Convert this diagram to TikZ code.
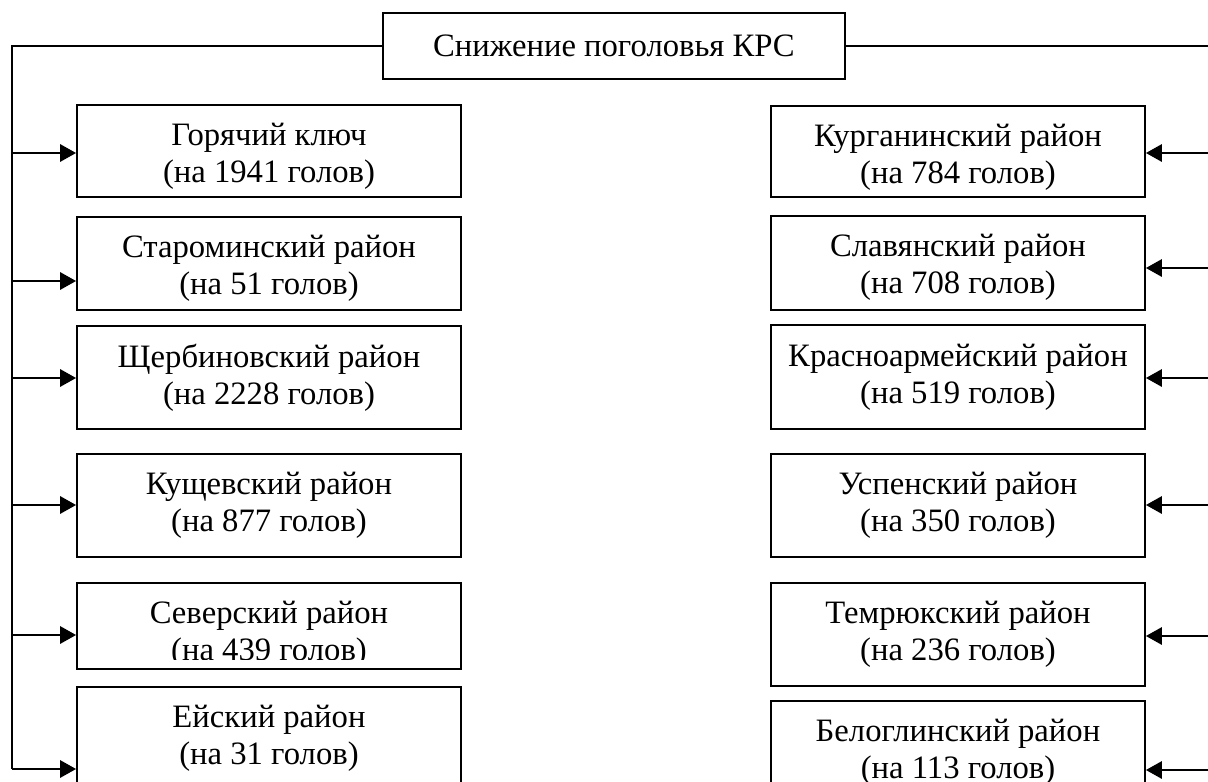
\documentclass[tikz,border=0pt]{standalone}
\usepackage{fontspec}
\setmainfont{Liberation Serif}
\usetikzlibrary{arrows.meta}

\begin{document}
\begin{tikzpicture}[
		x=0.75pt, y=-0.75pt,
		every node/.style={align=center, font=\fontsize{24.5}{27.75}\selectfont},
		box/.style={rectangle, draw, line width=1.4pt, inner sep=0pt},
		leftbox/.style={box, minimum width=288pt},
		rightbox/.style={box, minimum width=280.5pt},
		txt/.style={anchor=north, inner sep=0pt},
		link/.style={line width=1.6pt},
		arr/.style={link, -{Triangle[length=12pt, width=13pt]}}
		]
		
		\clip (0,0) rectangle (1208,782);
		
		% Top: title
		\node[box, minimum width=346.5pt, minimum height=49.5pt] (title) at (614,46) {Снижение поголовья КРС};
		
		% Left column
		\node[leftbox, minimum height=69pt] (l1) at (269,151) {};
		\node[leftbox, minimum height=69.75pt] (l2) at (269,263.5) {};
		\node[leftbox, minimum height=77.25pt] (l3) at (269,377.5) {};
		\node[leftbox, minimum height=77.25pt] (l4) at (269,505.5) {};
		\node[leftbox, minimum height=64.5pt] (l5) at (269,626) {};
		\node[leftbox, minimum height=84.75pt] (l6) at (269,743.5) {};
		
		\node[txt] (l1t) at (269,123) {Горячий ключ\\(на 1941 голов)};
		\node[txt] (l2t) at (269,235) {Староминский район\\(на 51 голов)};
		\node[txt] (l3t) at (269,344) {Щербиновский район\\(на 2228 голов)};
		\node[txt] (l4t) at (269,472) {Кущевский район\\(на 877 голов)};
		\begin{scope}
			\clip (77,583) rectangle (461,659);
			\node[txt] (l5t) at (269,601) {Северский район\\(на 439 голов)};
		\end{scope}
		\node[txt] (l6t) at (269,705) {Ейский район\\(на 31 голов)};
		
		% Right column
		\node[rightbox, minimum height=68.25pt] (r1) at (958,151.5) {};
		\node[rightbox, minimum height=70.5pt] (r2) at (958,263) {};
		\node[rightbox, minimum height=78pt] (r3) at (958,377) {};
		\node[rightbox, minimum height=77.25pt] (r4) at (958,505.5) {};
		\node[rightbox, minimum height=77.25pt] (r5) at (958,634.5) {};
		\node[rightbox, minimum height=81.75pt] (r6) at (958,755.5) {};
		
		\node[txt] (r1t) at (958,124) {Курганинский район\\(на 784 голов)};
		\node[txt] (r2t) at (958,234) {Славянский район\\(на 708 голов)};
		\node[txt] (r3t) at (958,344) {Красноармейский район\\(на 519 голов)};
		\node[txt] (r4t) at (958,472) {Успенский район\\(на 350 голов)};
		\node[txt] (r5t) at (958,601) {Темрюкский район\\(на 236 голов)};
		\node[txt] (r6t) at (958,719) {Белоглинский район\\(на 113 голов)};
		
		% Spines
		\coordinate (l1a) at (12,153);
		\coordinate (l2a) at (12,281);
		\coordinate (l3a) at (12,378);
		\coordinate (l4a) at (12,505);
		\coordinate (l5a) at (12,635);
		\coordinate (l6a) at (12,769);
		\coordinate (r1a) at (1209,153);
		\coordinate (r2a) at (1209,268);
		\coordinate (r3a) at (1209,378);
		\coordinate (r4a) at (1209,505);
		\coordinate (r5a) at (1209,636);
		\coordinate (r6a) at (1209,770);
		
		\draw[link] (title.west) -| (l6a);
		\draw[link] (title.east) -| (r6a);
		
		% Arrows
		\draw[arr] (l1a) -- (l1a -| l1.west);
		\draw[arr] (l2a) -- (l2a -| l2.west);
		\draw[arr] (l3a) -- (l3a -| l3.west);
		\draw[arr] (l4a) -- (l4a -| l4.west);
		\draw[arr] (l5a) -- (l5a -| l5.west);
		\draw[arr] (l6a) -- (l6a -| l6.west);
		\draw[arr] (r1a) -- (r1a -| r1.east);
		\draw[arr] (r2a) -- (r2a -| r2.east);
		\draw[arr] (r3a) -- (r3a -| r3.east);
		\draw[arr] (r4a) -- (r4a -| r4.east);
		\draw[arr] (r5a) -- (r5a -| r5.east);
		\draw[arr] (r6a) -- (r6a -| r6.east);
		
	\end{tikzpicture}
\end{document}
